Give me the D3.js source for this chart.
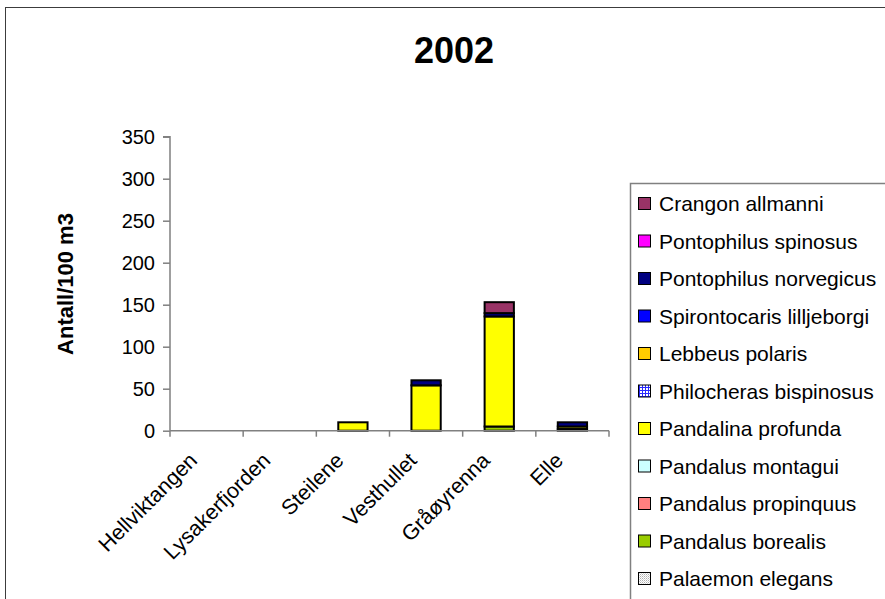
<!DOCTYPE html>
<html>
<head>
<meta charset="utf-8">
<script src="https://cdn.jsdelivr.net/npm/d3@7"></script>
<style>
  html, body { margin: 0; padding: 0; background: #fff; }
  svg { display: block; font-family: Arial, "Liberation Sans", sans-serif; }
</style>
</head>
<body>
<svg id="chart" width="885" height="599"></svg>
<script>
// ---- data ----
const title = "2002";
const yAxisTitle = "Antall/100 m3";
const categories = ["Hellviktangen", "Lysakerfjorden", "Steilene", "Vesthullet", "Gråøyrenna", "Elle"];
const yTicks = [0, 50, 100, 150, 200, 250, 300, 350];

// series listed bottom of stack -> top of stack
const seriesNames = [
  "Palaemon elegans", "Pandalus borealis", "Pandalus propinquus", "Pandalus montagui",
  "Pandalina profunda", "Philocheras bispinosus", "Lebbeus polaris",
  "Spirontocaris lilljeborgi", "Pontophilus norvegicus", "Pontophilus spinosus", "Crangon allmanni"
];
const palaemonElegans        = [0, 0, 0, 0, 0, 0];
const pandalusBorealis       = [0, 0, 0, 0, 5, 2];
const pandalusPropinquus     = [0, 0, 0, 0, 0, 0];
const pandalusMontagui       = [0, 0, 0, 0, 0, 0];
const pandalinaProfunda      = [0, 0, 10, 54, 131, 3];
const philocherasBispinosus  = [0, 0, 0, 0, 0, 0];
const lebbeusPolaris         = [0, 0, 0, 0, 0, 0];
const spirontocarisLilljeborgi = [0, 0, 0, 0, 0, 0];
const pontophilusNorvegicus  = [0, 0, 0, 6, 4, 5];
const pontophilusSpinosus    = [0, 0, 0, 0, 0, 0];
const crangonAllmanni        = [0, 0, 0, 0, 13, 0];

const seriesValues = [
  palaemonElegans, pandalusBorealis, pandalusPropinquus, pandalusMontagui,
  pandalinaProfunda, philocherasBispinosus, lebbeusPolaris,
  spirontocarisLilljeborgi, pontophilusNorvegicus, pontophilusSpinosus, crangonAllmanni
];
const seriesFills = [
  "url(#patDots)", "#99CC00", "#FF8080", "#CCFFFF",
  "#FFFF00", "url(#patGrid)", "#FFCC00",
  "#0000FF", "#000080", "#FF00FF", "#993366"
];

// ---- chart ----
const svg = d3.select("#chart");
const defs = svg.append("defs");
const pg = defs.append("pattern").attr("id", "patGrid").attr("patternUnits", "userSpaceOnUse")
  .attr("width", 3).attr("height", 3);
pg.append("rect").attr("width", 3).attr("height", 3).attr("fill", "#fff");
pg.append("rect").attr("width", 3).attr("height", 1).attr("fill", "#2a2aff");
pg.append("rect").attr("width", 1).attr("height", 3).attr("fill", "#2a2aff");
const pd = defs.append("pattern").attr("id", "patDots").attr("patternUnits", "userSpaceOnUse")
  .attr("width", 2).attr("height", 2);
pd.append("rect").attr("width", 2).attr("height", 2).attr("fill", "#fff");
pd.append("rect").attr("width", 1).attr("height", 1).attr("fill", "#b0b0b0");
pd.append("rect").attr("x", 1).attr("y", 1).attr("width", 1).attr("height", 1).attr("fill", "#d8d8d8");

svg.append("rect").attr("width", 885).attr("height", 599).attr("fill", "#fff");
// outer chart frame
svg.append("rect").attr("x", 5.5).attr("y", 7.5).attr("width", 900).attr("height", 620)
  .attr("fill", "none").attr("stroke", "#3c3c3c").attr("stroke-width", 1);

const plot = { left: 170, right: 609, top: 136.7, bottom: 430.7 };
const x = d3.scaleBand().domain(categories).range([plot.left, plot.right]).padding(0);
const y = d3.scaleLinear().domain([0, 350]).range([plot.bottom, plot.top]);

// title
svg.append("text").attr("x", 454).attr("y", 63).attr("text-anchor", "middle")
  .attr("font-size", 36).attr("font-weight", "bold").text(title);

// y axis title
svg.append("text").attr("transform", "translate(73,284) rotate(-90)")
  .attr("text-anchor", "middle").attr("font-size", 22).attr("font-weight", "bold").text(yAxisTitle);

// stacked data
const rows = categories.map((c, i) => {
  const r = { cat: c };
  seriesNames.forEach((s, j) => r[s] = seriesValues[j][i]);
  return r;
});
const stack = d3.stack().keys(seriesNames)(rows);
const barW = x.bandwidth() / 2.5;

const gBars = svg.append("g");
stack.forEach((layer, j) => {
  gBars.selectAll(null).data(layer.filter(d => d[1] - d[0] > 0)).enter().append("rect")
    .attr("x", d => x(d.data.cat) + (x.bandwidth() - barW) / 2)
    .attr("y", d => y(d[1]))
    .attr("width", barW)
    .attr("height", d => y(d[0]) - y(d[1]))
    .attr("fill", seriesFills[j])
    .attr("stroke", "#000").attr("stroke-width", 2);
});

// y axis
const yAxis = d3.axisLeft(y).tickValues(yTicks).tickSize(7).tickPadding(8);
const gy = svg.append("g").attr("transform", `translate(${plot.left},0)`).call(yAxis);
gy.select(".domain").attr("stroke", "#808080").attr("stroke-width", 1.5).attr("d", `M-7,${plot.top}H0V${plot.bottom}`);
gy.selectAll(".tick line").attr("stroke", "#808080").attr("stroke-width", 1.5);
gy.selectAll(".tick text").attr("font-size", 20).attr("font-family", "Arial, 'Liberation Sans', sans-serif").attr("fill", "#000");

// x axis
const gx = svg.append("g").attr("transform", `translate(0,${plot.bottom})`);
gx.append("line").attr("x1", plot.left).attr("x2", plot.right).attr("y1", 0).attr("y2", 0)
  .attr("stroke", "#808080").attr("stroke-width", 1.5);
const bounds = categories.map(c => x(c)).concat([x(categories[categories.length - 1]) + x.bandwidth()]);
gx.selectAll("line.tk").data(bounds).enter().append("line").attr("class", "tk")
  .attr("x1", d => d).attr("x2", d => d).attr("y1", 0).attr("y2", 6)
  .attr("stroke", "#808080").attr("stroke-width", 1.5);
gx.selectAll("text").data(categories).enter().append("text")
  .attr("transform", d => `translate(${x(d) + x.bandwidth() / 2 - 8},31) rotate(-45)`)
  .attr("text-anchor", "end").attr("font-size", 21.5).text(d => d);

// legend
const lg = svg.append("g");
lg.append("rect").attr("x", 630.5).attr("y", 183.5).attr("width", 300).attr("height", 450)
  .attr("fill", "#fff").attr("stroke", "#808080").attr("stroke-width", 1.5);
const legendOrder = seriesNames.map((s, j) => j).reverse();
legendOrder.forEach((j, i) => {
  const cy = 203.5 + i * 37.5;
  lg.append("rect").attr("x", 638.5).attr("y", cy - 6).attr("width", 12).attr("height", 12)
    .attr("fill", seriesFills[j]).attr("stroke", "#000").attr("stroke-width", 1);
  lg.append("text").attr("x", 659).attr("y", cy + 7.5).attr("font-size", 21).text(seriesNames[j]);
});
</script>
</body>
</html>
